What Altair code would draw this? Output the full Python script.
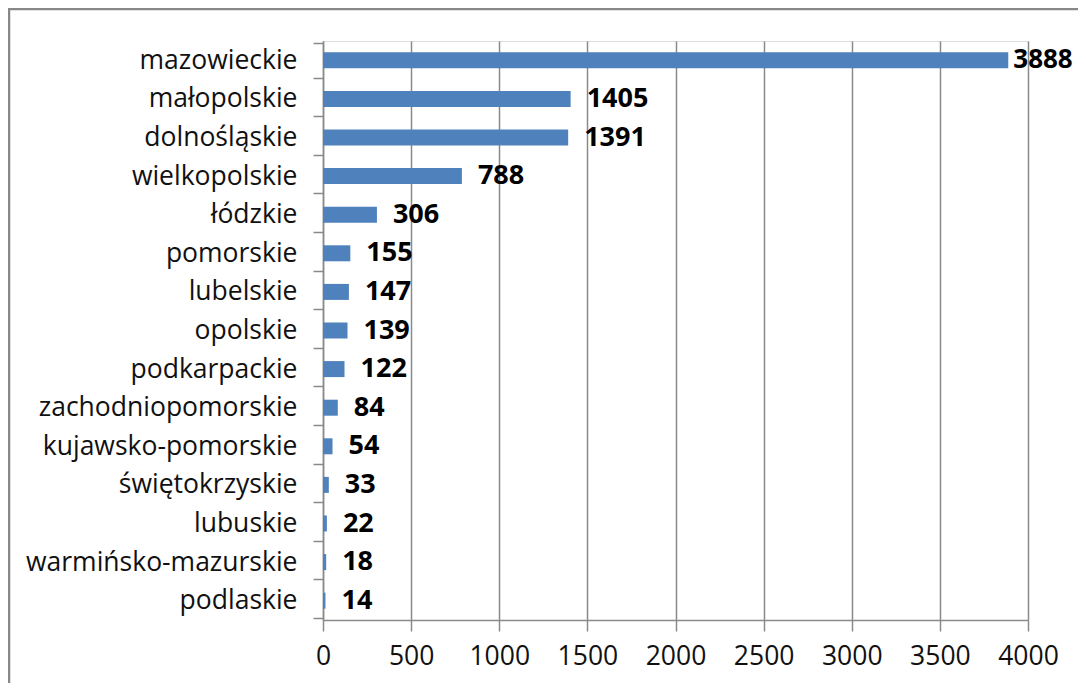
import altair as alt
import pandas as pd

regions = ["mazowieckie", "małopolskie", "dolnośląskie", "wielkopolskie", "łódzkie",
           "pomorskie", "lubelskie", "opolskie", "podkarpackie", "zachodniopomorskie",
           "kujawsko-pomorskie", "świętokrzyskie", "lubuskie", "warmińsko-mazurskie", "podlaskie"]
values = [3888, 1405, 1391, 788, 306, 155, 147, 139, 122, 84, 54, 33, 22, 18, 14]
x_ticks = [0, 500, 1000, 1500, 2000, 2500, 3000, 3500, 4000]

df = pd.DataFrame({"region": regions, "value": values})

FONT = "Open Sans"
GRID = "#8a8a8a"

base = alt.Chart(df).encode(
    y=alt.Y("region:N", sort=None, title=None,
            axis=alt.Axis(labelFont=FONT, labelFontSize=26.5, labelColor="#111111",
                          labelLimit=400, labelPadding=16, tickSize=10,
                          tickBand="extent", tickColor=GRID, domainColor=GRID,
                          tickWidth=1.5, domainWidth=1.5, grid=False)),
    x=alt.X("value:Q", title=None,
            scale=alt.Scale(domain=[0, 4000], nice=False),
            axis=alt.Axis(values=x_ticks, format="d", labelFont=FONT, labelFontSize=26.5,
                          labelColor="#111111", labelPadding=12, tickSize=11,
                          tickColor=GRID, domainColor=GRID, gridColor=GRID,
                          tickWidth=1.5, domainWidth=1.5, gridWidth=1.5,
                          labelFlush=False)),
)

bars = base.mark_bar(color="#4F81BD", size=16)
label_style = dict(align="left", baseline="middle", font=FONT,
                   fontSize=27, fontWeight="bold", color="#000000")
labels = base.mark_text(dx=16, **label_style).encode(
    text=alt.Text("value:Q")).transform_filter("datum.value < 3500")
labels_edge = base.mark_text(dx=5, fontSize=26, **{k: v for k, v in label_style.items() if k != "fontSize"}).encode(
    text=alt.Text("value:Q")).transform_filter("datum.value >= 3500")

frame = alt.Chart(pd.DataFrame({"a": [0]})).mark_rect(
    fill=None, stroke="#888888", strokeWidth=2.5).encode(
    x=alt.value(-314), x2=alt.value(900), y=alt.value(-32), y2=alt.value(800))

chart = alt.layer(frame, bars, labels, labels_edge).properties(
    width=705, height=579,
    padding={"left": 315, "top": 33, "right": 50, "bottom": 63},
    autosize=alt.AutoSizeParams(type="none"),
).configure_view(stroke=None).configure(background="white")

chart.save("out.html", embed_options={"renderer": "svg", "actions": False})
